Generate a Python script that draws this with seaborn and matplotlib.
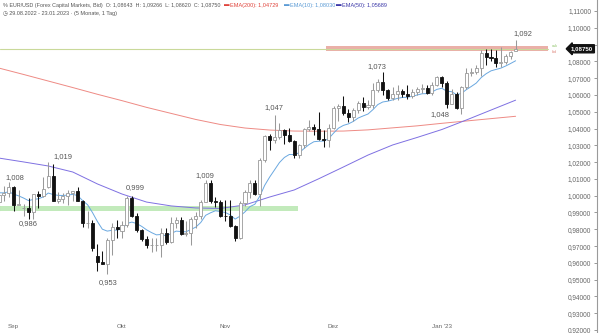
import numpy as np
import pandas as pd
import matplotlib
matplotlib.use("Agg")
import matplotlib.pyplot as plt
import seaborn as sns
from matplotlib.ticker import FuncFormatter

# ---------------- data ----------------
dates = pd.bdate_range("2022-08-29", "2023-01-23")

opens = [0.9963, 1.0005, 1.0015, 1.0054, 0.9944, 0.9925, 0.9927, 0.9902, 1.0011, 0.9998,
         1.0050, 1.0120, 0.9968, 0.9979, 0.9998, 1.0015, 1.0026, 0.9968, 0.9835, 0.9838,
         0.9640, 0.9607, 0.9594, 0.9738, 0.9815, 0.9790, 0.9826, 0.9985, 0.9881, 0.9793,
         0.9743, 0.9704, 0.9706, 0.9706, 0.9780, 0.9722, 0.9837, 0.9855, 0.9774, 0.9778,
         0.9860, 0.9877, 0.9963, 1.0077, 0.9966, 0.9965, 0.9882, 0.9878, 0.9818, 0.9749,
         0.9959, 1.0019, 1.0074, 1.0013, 1.0210, 1.0354, 1.0330, 1.0348, 1.0394, 1.0364,
         1.0325, 1.0243, 1.0303, 1.0395, 1.0409, 1.0399, 1.0338, 1.0329, 1.0405, 1.0521,
         1.0535, 1.0493, 1.0467, 1.0508, 1.0554, 1.0531, 1.0538, 1.0630, 1.0679, 1.0627,
         1.0584, 1.0606, 1.0621, 1.0608, 1.0594, 1.0615, 1.0636, 1.0640, 1.0611, 1.0660,
         1.0705, 1.0669, 1.0546, 1.0604, 1.0521, 1.0645, 1.0733, 1.0735, 1.0761, 1.0850,
         1.0829, 1.0822, 1.0789, 1.0795, 1.0831, 1.08643]
highs = [1.0030, 1.0055, 1.0080, 1.0056, 1.0034, 0.9951, 0.9989, 1.0011, 1.0030, 1.0113,
         1.0198, 1.0187, 1.0019, 1.0017, 1.0036, 1.0030, 1.0051, 0.9976, 0.9908, 0.9853,
         0.9710, 0.9671, 0.9748, 0.9839, 0.9853, 0.9848, 0.9999, 0.9998, 0.9898, 0.9800,
         0.9757, 0.9749, 0.9749, 0.9808, 0.9810, 0.9871, 0.9874, 0.9876, 0.9850, 0.9873,
         0.9904, 0.9976, 1.0094, 1.0091, 0.9990, 0.9975, 0.9976, 0.9976, 0.9825, 0.9966,
         1.0034, 1.0094, 1.0096, 1.0224, 1.0364, 1.0365, 1.0479, 1.0435, 1.0397, 1.0404,
         1.0333, 1.0310, 1.0405, 1.0449, 1.0428, 1.0497, 1.0390, 1.0428, 1.0533, 1.0545,
         1.0595, 1.0518, 1.0525, 1.0564, 1.0589, 1.0568, 1.0673, 1.0695, 1.0736, 1.0637,
         1.0650, 1.0657, 1.0638, 1.0657, 1.0638, 1.0646, 1.0664, 1.0659, 1.0677, 1.0714,
         1.0711, 1.0683, 1.0633, 1.0620, 1.0652, 1.0760, 1.0761, 1.0777, 1.0868, 1.0873,
         1.0874, 1.0867, 1.0888, 1.0842, 1.0860, 1.09266]
lows = [0.9909, 0.9966, 0.9990, 0.9910, 0.9944, 0.9877, 0.9864, 0.9864, 0.9929, 0.9993,
        1.0047, 0.9966, 0.9955, 0.9956, 0.9945, 0.9966, 0.9966, 0.9812, 0.9807, 0.9670,
        0.9553, 0.9594, 0.9536, 0.9649, 0.9748, 0.9750, 0.9813, 0.9875, 0.9785, 0.9730,
        0.9690, 0.9667, 0.9670, 0.9632, 0.9711, 0.9720, 0.9807, 0.9766, 0.9760, 0.9705,
        0.9810, 0.9862, 0.9962, 0.9955, 0.9930, 0.9871, 0.9851, 0.9813, 0.9731, 0.9745,
        0.9936, 0.9987, 1.0003, 0.9936, 1.0200, 1.0271, 1.0315, 1.0340, 1.0305, 1.0317,
        1.0223, 1.0226, 1.0282, 1.0386, 1.0359, 1.0330, 1.0290, 1.0290, 1.0397, 1.0443,
        1.0479, 1.0441, 1.0443, 1.0495, 1.0503, 1.0514, 1.0521, 1.0617, 1.0600, 1.0569,
        1.0568, 1.0571, 1.0590, 1.0574, 1.0582, 1.0601, 1.0613, 1.0608, 1.0602, 1.0656,
        1.0649, 1.0520, 1.0544, 1.0516, 1.0484, 1.0637, 1.0713, 1.0725, 1.0711, 1.0780,
        1.0800, 1.0767, 1.0766, 1.0782, 1.0815, 1.08620]
closes = [1.0005, 1.0015, 1.0054, 0.9944, 0.9953, 0.9927, 0.9902, 1.0011, 0.9998, 1.0042,
          1.0120, 0.9968, 0.9979, 0.9998, 1.0015, 1.0026, 0.9968, 0.9835, 0.9838, 0.9689,
          0.9607, 0.9594, 0.9738, 0.9815, 0.9802, 0.9826, 0.9985, 0.9881, 0.9793, 0.9743,
          0.9704, 0.9706, 0.9706, 0.9780, 0.9722, 0.9837, 0.9855, 0.9774, 0.9778, 0.9860,
          0.9877, 0.9963, 1.0077, 0.9966, 0.9965, 0.9882, 0.9878, 0.9818, 0.9749, 0.9959,
          1.0019, 1.0074, 1.0013, 1.0210, 1.0354, 1.0330, 1.0348, 1.0394, 1.0364, 1.0325,
          1.0243, 1.0303, 1.0395, 1.0409, 1.0399, 1.0338, 1.0329, 1.0405, 1.0521, 1.0535,
          1.0493, 1.0467, 1.0508, 1.0554, 1.0531, 1.0538, 1.0630, 1.0679, 1.0627, 1.0584,
          1.0606, 1.0621, 1.0608, 1.0594, 1.0615, 1.0636, 1.0640, 1.0611, 1.0660, 1.0705,
          1.0669, 1.0546, 1.0604, 1.0521, 1.0645, 1.0733, 1.0735, 1.0761, 1.0850, 1.0829,
          1.0822, 1.0789, 1.0795, 1.0831, 1.0855, 1.08750]

ema10_start = 1.0020   # EMA(10) value before the first bar

# EMA(200) / EMA(50) (every 5th bar)
ema_bars = [0, 5, 10, 15, 20, 25, 30, 35, 40, 45, 50, 55, 60, 65, 70, 75, 80, 85, 90, 95, 100, 105]
ema200 = [1.0760, 1.0722, 1.0683, 1.0644, 1.0604, 1.0566, 1.0526, 1.0490, 1.0454, 1.0424, 1.0403,
          1.0391, 1.0385, 1.0384, 1.0385, 1.0392, 1.0404, 1.0416, 1.0431, 1.0445, 1.0459, 1.04729]
ema50 = [1.0224, 1.0201, 1.0177, 1.0141, 1.0070, 1.0010, 0.9962, 0.9939, 0.9927, 0.9924, 0.9945,
         0.9992, 1.0034, 1.0101, 1.0171, 1.0242, 1.0302, 1.0347, 1.0394, 1.0451, 1.0510, 1.05689]

month_labels = ["Sep", "Okt", "Nov", "Dez", "Jan '23"]
extreme_labels = ["1,008", "0,986", "1,019", "0,953", "0,999", "1,009", "1,047", "1,073", "1,048", "1,092"]
support_zone = (0.99105, 0.99404)
resist_zone = (1.0859, 1.0892)
last_price = 1.08750

# ---------------- plot ----------------
sns.set_theme(style="white")
plt.rcParams["font.family"] = ["Liberation Sans", "DejaVu Sans"]

W, H = 600, 333
fig = plt.figure(figsize=(6, 3.33), dpi=100)
ax = fig.add_axes([0, 0, 597 / W, 1])
ax.set_facecolor("white")

df = pd.DataFrame(dict(date=dates, open=opens, high=highs, low=lows, close=closes))
df["i"] = np.arange(len(df))
df["ema10"] = pd.Series([ema10_start] + closes).ewm(span=10, adjust=False).mean().iloc[1:].values

x0_px, step_px = -1.0, 4.92
ax.set_xlim((0 - x0_px) / step_px, (597 - x0_px) / step_px)
ax.set_ylim(1.11 - 322 / 1679, 1.11 + 11 / 1679)
end_i = (548 - x0_px) / step_px
left_i = ax.get_xlim()[0]

# zones
ax.fill_between([left_i, (298 - x0_px) / step_px], *support_zone, color="#c2eabb", lw=0, zorder=1)
ax.fill_between([(326 - x0_px) / step_px, end_i], *resist_zone, color="#eab0a8", lw=0, zorder=1)
ax.plot([left_i, end_i], [last_price, last_price], color="#c9d99a", lw=0.8, zorder=1.5)

# EMAs
sns.lineplot(x=ema_bars, y=ema200, ax=ax, color="#ee8a84", lw=0.7, zorder=2)
sns.lineplot(x=ema_bars, y=ema50, ax=ax, color="#7e70e2", lw=0.7, zorder=2)
sns.lineplot(data=df, x="i", y="ema10", ax=ax, color="#6aa8e0", lw=0.7, zorder=2)

# candles
up = df.close >= df.open
bb = np.minimum(df.open, df.close)
bh = np.maximum((df.close - df.open).abs(), 0.00025)
ax.vlines(df.i[up], df.low[up], df.high[up], color="#999999", lw=0.75, zorder=3)
ax.vlines(df.i[~up], df.low[~up], df.high[~up], color="#111111", lw=0.75, zorder=3)
ax.bar(df.i[up], bh[up], bottom=bb[up], width=0.62, color="white", edgecolor="#999999", lw=0.6, zorder=4)
ax.bar(df.i[~up], bh[~up], bottom=bb[~up], width=0.62, color="#111111", edgecolor="#111111", lw=0.6, zorder=4)

# extreme labels (pixel layout)
lab_pos = [(15, 177.5), (28, 224), (63, 157), (108, 283), (135, 188), (205, 176),
           (274, 108), (377, 67), (440, 115), (523, 34)]
for t, (px, py) in zip(extreme_labels, lab_pos):
    ax.text((px - x0_px) / step_px, 1.11 - (py - 11) / 1679, t, ha="center", va="center",
            fontsize=5.4, color="#555555", zorder=6)

# axes styling
for s in ["top", "left", "bottom"]:
    ax.spines[s].set_visible(False)
ax.spines["right"].set_color("#9a9a9a")
ax.spines["right"].set_linewidth(0.8)
ax.yaxis.tick_right()
ax.set_yticks(np.round(np.arange(0.92, 1.1101, 0.01), 2))
ax.yaxis.set_major_formatter(FuncFormatter(
    lambda v, p: "" if abs(v - 1.09) < 1e-6 else f"{v:.5f}".replace(".", ",")))
ax.tick_params(axis="y", direction="in", length=2.5, width=0.6, color="#888888",
               pad=-4, labelsize=4.7, labelcolor="#666666")
for lab in ax.get_yticklabels():
    lab.set_ha("right")

month_pos = [int(np.argmax(df.date.dt.month.values == m)) for m in [9, 10, 11, 12, 1]]
ax.set_xticks(month_pos)
ax.set_xticklabels(month_labels)
ax.tick_params(axis="x", direction="in", length=2, width=0.6, color="#888888",
               pad=-6.5, labelsize=4.5, labelcolor="#666666")
ax.set_xlabel("")
ax.set_ylabel("")
ax.grid(False)

# price tag (covers the 1,09000 tick label, as in the original)
ax.annotate("1,08750", xy=(1.0, last_price), xycoords=("axes fraction", "data"),
            xytext=(-3, 0), textcoords="offset points", ha="right", va="center",
            fontsize=4.4, color="white", fontweight="bold", zorder=8,
            bbox=dict(boxstyle="larrow,pad=0.25", fc="#111111", ec="#111111"))
ax.text((552 - x0_px) / step_px, 1.0893, "ask", fontsize=2.8, color="#8fc46a", va="center")
ax.text((552 - x0_px) / step_px, 1.0857, "bid", fontsize=2.8, color="#e08a80", va="center")

# header
def ftext(px, py, s, c, fs=4.0, **kw):
    fig.text(px / W, 1 - py / H, s, color=c, fontsize=fs, va="center", ha="left", **kw)

ftext(3, 5, "% EUR/USD (Forex Capital Markets, Bid)  O: 1,08643  H: 1,09266  L: 1,08620  C: 1,08750", "#555555", fs=3.85)
ftext(224, 5, "▬", "#e0443c")
ftext(230, 5, "EMA(200): 1,04729", "#e0443c")
ftext(284, 5, "▬", "#5b9bd5")
ftext(290, 5, "EMA(10): 1,08030", "#5b9bd5")
ftext(336, 5, "▬", "#3a37a8")
ftext(342, 5, "EMA(50): 1,05689", "#3a37a8")
ftext(3, 13, "◷ 29.08.2022 - 23.01.2023 · (5 Monate, 1 Tag)", "#555555")

fig.savefig("out.png", dpi=100)
